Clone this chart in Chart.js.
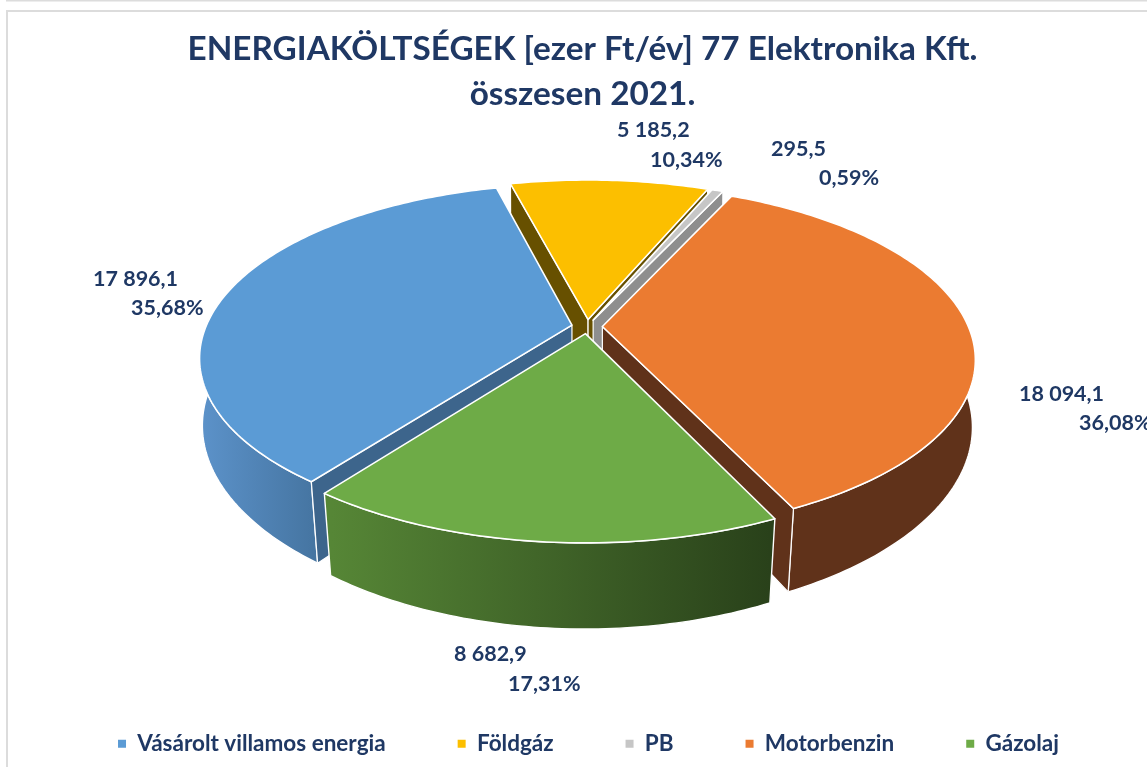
<!DOCTYPE html>
<html lang="hu">
<head>
<meta charset="utf-8">
<title>Energiaköltségek</title>
<style>
html,body{margin:0;padding:0;background:#fff;overflow:hidden}
#wrap{position:relative;width:1147px;height:767px}
</style>
<script src="https://cdn.jsdelivr.net/npm/chart.js@4"></script>
</head>
<body>
<div id="wrap"><canvas id="c" width="1147" height="767"></canvas></div>
<script>
// ---- data ----
const categories = ['Vásárolt villamos energia', 'Földgáz', 'PB', 'Motorbenzin', 'Gázolaj'];
const values = [17896.1, 5185.2, 295.5, 18094.1, 8682.9];
const titleLines = ['ENERGIAKÖLTSÉGEK [ezer Ft/év] 77 Elektronika Kft.', 'összesen 2021.'];

// ---- style ----
const topColors   = ['#5B9BD5', '#FCBF00', '#C6C6C6', '#EB7B31', '#6EAB47'];
const wallLeft    = ['#5B91C8', '#675000', '#8E8E8E', '#60321A', '#568636'];
const wallRight   = ['#44739F', '#675000', '#8E8E8E', '#60321A', '#29411A'];
const radialColor = ['#3D658C', '#675000', '#8E8E8E', '#60321A', '#29411A'];
const wallSpan    = [[205, 322], [510, 710], [590, 725], [790, 975], [332, 770]];
const TEXT = '#1F3864';
const FONT = 'Lato, Carlito, "Open Sans", sans-serif';

// perspective camera for the pie disc
const CX = 587, CY = 326.5, SCALE_X = 366, SCALE_Y = 167.7, PERSP = 0.185;
const EXPLODE = 0.042, DEPTH = 69.5, CONVERGE_BASE = 0.003, CONVERGE = 0.025;
// label placement (left x, baseline y) for value line, then percent line
const labelPlaces = [
  [93, 286, 131, 315],
  [617, 137, 650, 167],
  [771, 156, 819, 185],
  [1019, 401, 1079, 430],
  [454, 661, 508, 691]
];

function project(u, v, down) {
  const den = 1 + PERSP * v;
  let x = CX + SCALE_X * u / den;
  let y = CY - SCALE_Y * v / den;
  if (down) {
    x = CX + (x - CX) * (1 - CONVERGE_BASE - CONVERGE * Math.max(-v, 0));
    y += DEPTH / den;
  }
  return [x, y];
}
function fmtNum(v) {
  const p = v.toFixed(1).split('.');
  return p[0].replace(/\B(?=(\d{3})+$)/g, ' ') + ',' + p[1];
}
function poly(ctx, pts) {
  ctx.beginPath();
  pts.forEach((p, i) => i ? ctx.lineTo(p[0], p[1]) : ctx.moveTo(p[0], p[1]));
  ctx.closePath();
}

const pie3d = {
  id: 'pie3d',
  beforeDraw(chart) {
    const ctx = chart.ctx;
    ctx.save();
    ctx.fillStyle = '#fff';
    ctx.fillRect(0, 0, chart.width, chart.height);
    ctx.fillStyle = '#DCDCDC';
    ctx.fillRect(6, 0, 1141, 1.5);
    ctx.fillRect(6, 10, 1141, 2);
    ctx.fillRect(6, 10, 2, 757);
    ctx.restore();
  },
  afterLayout(chart) {
    chart.legend.left += 6;
    chart.legend.right += 6;
  },
  beforeDatasetsDraw(chart) {
    const ctx = chart.ctx;
    const arcs = chart.getDatasetMeta(0).data;
    const slices = arcs.map((arc, i) => {
      const a0 = arc.startAngle + Math.PI / 2, a1 = arc.endAngle + Math.PI / 2;
      const mid = (a0 + a1) / 2;
      return { i, a0, a1, mid, su: Math.sin(mid) * EXPLODE, sv: Math.cos(mid) * EXPLODE, depth: Math.cos(mid) };
    });
    slices.sort((a, b) => b.depth - a.depth);
    ctx.save();
    ctx.lineJoin = 'round';
    ctx.strokeStyle = '#fff';
    slices.forEach(s => {
      const n = Math.max(4, Math.ceil((s.a1 - s.a0) * 60));
      const angles = [];
      for (let k = 0; k <= n; k++) angles.push(s.a0 + (s.a1 - s.a0) * k / n);
      const at = (t, down) => project(Math.sin(t) + s.su, Math.cos(t) + s.sv, down);
      const top = angles.map(t => at(t, false));
      const tipT = project(s.su, s.sv, false), tipB = project(s.su, s.sv, true);
      const midP = at(s.mid, false);
      // outer wall: only the part that faces the viewer
      const front = angles.filter(t => Math.cos(t) < 0.1);
      if (front.length > 1) {
        const g = ctx.createLinearGradient(wallSpan[s.i][0], 0, wallSpan[s.i][1], 0);
        g.addColorStop(0, wallLeft[s.i]);
        g.addColorStop(1, wallRight[s.i]);
        ctx.fillStyle = g;
        poly(ctx, front.map(t => at(t, false)).concat(front.slice().reverse().map(t => at(t, true))));
        ctx.fill();
        ctx.lineWidth = 1.4;
        ctx.stroke();
      }
      // radial faces that look towards the viewer
      ctx.lineWidth = 1.2;
      ctx.fillStyle = radialColor[s.i];
      [s.a0, s.a1].forEach(t => {
        const a = at(t, false);
        const ex = a[0] - tipT[0], ey = a[1] - tipT[1];
        const side = ex * (midP[1] - tipT[1]) - ey * (midP[0] - tipT[0]);
        if (side * ex < 0) {
          poly(ctx, [tipT, a, at(t, true), tipB]);
          ctx.fill();
          ctx.stroke();
        }
      });
      // top face
      ctx.fillStyle = topColors[s.i];
      poly(ctx, [tipT].concat(top));
      ctx.fill();
      ctx.lineWidth = 1.6;
      ctx.stroke();
    });
    // value labels
    const total = values.reduce((a, b) => a + b, 0);
    ctx.fillStyle = TEXT;
    ctx.font = 'bold 21.5px ' + FONT;
    ctx.textAlign = 'left';
    ctx.textBaseline = 'alphabetic';
    values.forEach((v, i) => {
      const p = labelPlaces[i];
      ctx.fillText(fmtNum(v), p[0], p[1]);
      ctx.fillText((v / total * 100).toFixed(2).replace('.', ',') + '%', p[2], p[3]);
    });
    ctx.restore();
    return false;
  }
};

new Chart(document.getElementById('c'), {
  type: 'pie',
  data: {
    labels: categories,
    datasets: [{ data: values, backgroundColor: topColors, borderWidth: 0 }]
  },
  plugins: [pie3d],
  options: {
    responsive: false,
    animation: false,
    rotation: 217,
    layout: { padding: { left: 18, right: 0, top: 27, bottom: 2 } },
    plugins: {
      tooltip: { enabled: false },
      title: {
        display: true,
        text: titleLines,
        color: TEXT,
        font: { family: FONT, size: 33.3, weight: 'bold', lineHeight: 1.35 },
        padding: { top: 0, bottom: 0 }
      },
      legend: {
        position: 'bottom',
        labels: {
          boxWidth: 8,
          boxHeight: 8,
          padding: 72,
          color: TEXT,
          font: { family: FONT, size: 22.5, weight: 'bold' }
        }
      }
    }
  }
});
</script>
</body>
</html>
